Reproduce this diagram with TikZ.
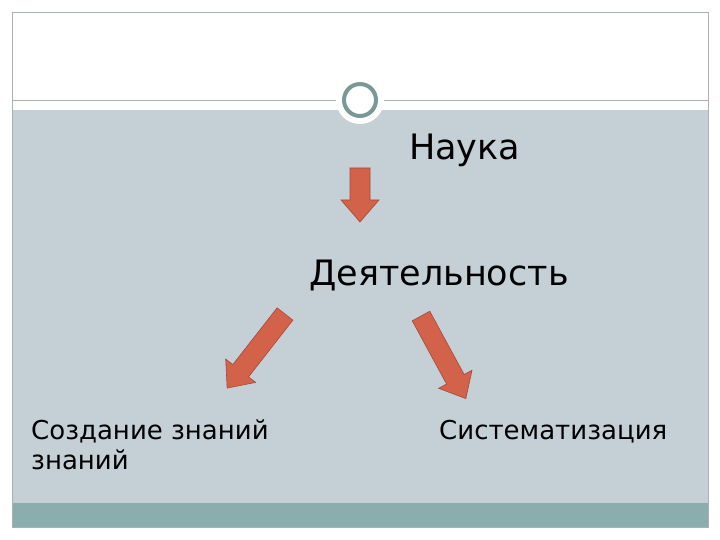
\documentclass[tikz,border=0pt]{standalone}
\usepackage{fontspec}
\setmainfont{DejaVu Sans}
\usetikzlibrary{positioning}
\definecolor{panelgray}{HTML}{C5D0D6}
\definecolor{stripteal}{HTML}{8BADAD}
\definecolor{ringteal}{HTML}{7A9896}
\definecolor{arrowred}{HTML}{D2624A}
\definecolor{arrowedge}{HTML}{A8483A}
\definecolor{framegray}{HTML}{A9B1B1}

\begin{document}
\begin{tikzpicture}[x=1pt, y=-1pt,
    bigtext/.style={font=\fontsize{35}{42}\selectfont, inner sep=0pt, anchor=base west},
    smalltext/.style={font=\fontsize{26}{30}\selectfont, inner sep=0pt, anchor=base west, align=left},
    blockarrow/.pic={
      \path[fill=arrowred, draw=arrowedge, line width=0.6pt, line join=miter]
        (0,-10) -- (#1-22,-10) -- (#1-22,-19) -- (#1,0)
        -- (#1-22,19) -- (#1-22,10) -- (0,10) -- cycle;
    }
  ]

  % ===== Page and panels =====
  \useasboundingbox (0,0) rectangle (720,540);
  \fill[white] (0,0) rectangle (720,540);
  \fill[panelgray] (12,110) rectangle (708,503);
  \fill[stripteal] (12,503) rectangle (708,527);
  \draw[framegray, line width=0.8pt] (12,12) rectangle (708,527);
  \draw[framegray, line width=0.8pt] (12,100) -- (708,100);

  % ===== Ring on the divider =====
  \fill[white] (360,100) circle[radius=24];
  \draw[ringteal, line width=4pt] (360,100) circle[radius=16];

  % ===== Texts =====
  \node[bigtext] (nauka) at (409,160) {Наука};
  \node[bigtext] (deyat) at (309,285) {Деятельность};
  \node[smalltext] (sozd) at (31,469) {Создание знаний\\знаний};
  \node[smalltext] (sist) at (439,439) {Систематизация};

  % ===== Block arrows =====
  \pic[rotate=-90] at (360,168) {blockarrow=54};
  \pic[rotate=-128] at (285,314) {blockarrow=94};
  \pic[rotate=-61.5] at (421,316) {blockarrow=94};
\end{tikzpicture}
\end{document}
